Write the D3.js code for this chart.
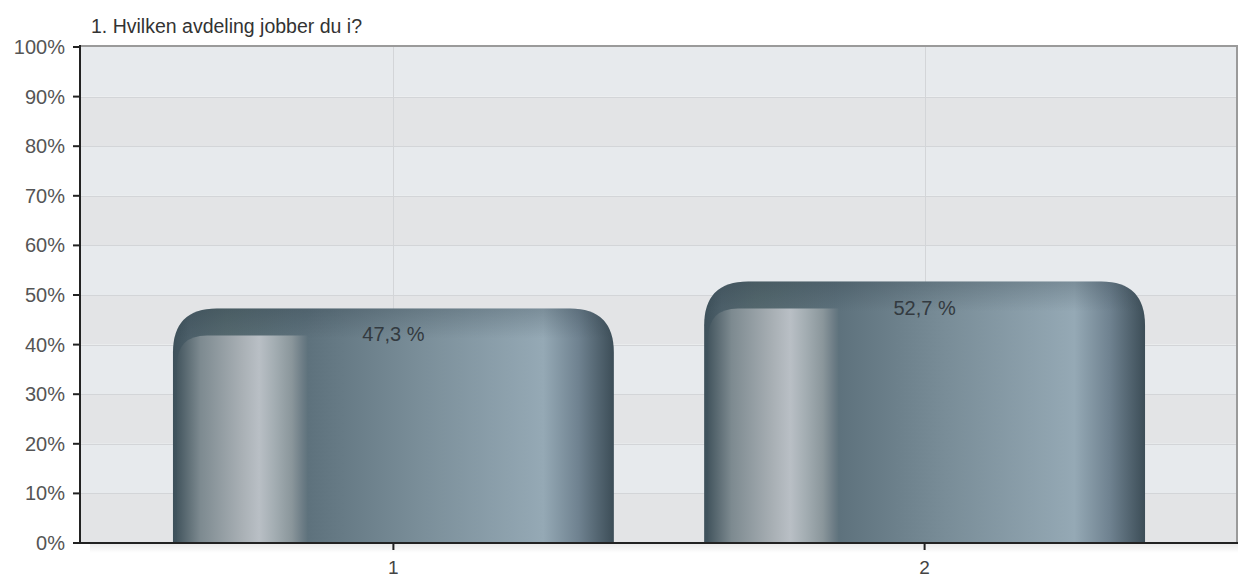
<!DOCTYPE html>
<html>
<head>
<meta charset="utf-8">
<script src="https://cdn.jsdelivr.net/npm/d3@7"></script>
<style>
  html, body { margin: 0; padding: 0; background: #ffffff; }
  svg { display: block; font-family: "Liberation Sans", Arial, Helvetica, sans-serif; }
</style>
</head>
<body>
<svg id="chart" width="1240" height="579"></svg>
<script>
// Survey question and answer shares
const title = "1. Hvilken avdeling jobber du i?";
const categories = ["1", "2"];
const values = [47.3, 52.7];
const valueLabels = ["47,3 %", "52,7 %"];
const yTicks = [0, 10, 20, 30, 40, 50, 60, 70, 80, 90, 100];
const yTickLabels = ["0%", "10%", "20%", "30%", "40%", "50%", "60%", "70%", "80%", "90%", "100%"];

const svg = d3.select("#chart");
const plot = { left: 80, right: 1238, top: 47, bottom: 543 };

const y = d3.scaleLinear().domain([0, 100]).range([plot.bottom, plot.top]);
const x = d3.scaleBand().domain(categories)
  .range([plot.left, plot.right])
  .paddingInner(0.17).paddingOuter(0.175);

const defs = svg.append("defs");

// Metallic horizontal gradient for the bar body
const body = defs.append("linearGradient").attr("id", "barBody")
  .attr("x1", 0).attr("x2", 1).attr("y1", 0).attr("y2", 0);
[[0, "#3d505a"], [0.04, "#4d606a"], [0.12, "#55696f"], [0.30, "#5d717c"],
 [0.55, "#798d98"], [0.84, "#95a9b5"], [0.92, "#6f8290"], [1, "#3c4d57"]]
  .forEach(([o, c]) => body.append("stop").attr("offset", o).attr("stop-color", c));

// Glossy highlight on the front left face
const hl = defs.append("linearGradient").attr("id", "barHighlight")
  .attr("x1", 0).attr("x2", 1).attr("y1", 0).attr("y2", 0);
[[0, "#44565f"], [0.18, "#7d8a90"], [0.5, "#a9b0b5"], [0.63, "#b9bfc5"],
 [0.75, "#a3adb2"], [0.88, "#8a969b"], [0.96, "#6d7d86"], [1, "#5f737d"]]
  .forEach(([o, c]) => hl.append("stop").attr("offset", o).attr("stop-color", c));

// Soft shadow under the x axis
const sh = defs.append("linearGradient").attr("id", "axisShadow")
  .attr("x1", 0).attr("x2", 0).attr("y1", 0).attr("y2", 1);
sh.append("stop").attr("offset", 0).attr("stop-color", "#000").attr("stop-opacity", 0.08);
sh.append("stop").attr("offset", 1).attr("stop-color", "#000").attr("stop-opacity", 0);

// Alternating background bands
const bands = d3.range(yTicks.length - 1).map(i => [yTicks[i], yTicks[i + 1]]);
svg.append("g").selectAll("rect").data(bands).join("rect")
  .attr("x", plot.left)
  .attr("width", plot.right - plot.left)
  .attr("y", d => y(d[1]))
  .attr("height", d => y(d[0]) - y(d[1]))
  .attr("fill", (d, i) => i % 2 === 0 ? "#e3e4e6" : "#e7eaed");

// Horizontal grid lines
svg.append("g").selectAll("line").data(yTicks.slice(1, -1)).join("line")
  .attr("x1", plot.left).attr("x2", plot.right)
  .attr("y1", d => Math.round(y(d)) + 0.5).attr("y2", d => Math.round(y(d)) + 0.5)
  .attr("stroke", "#d3d5d8").attr("stroke-width", 1);

// Vertical grid lines at category centres
svg.append("g").selectAll("line").data(categories).join("line")
  .attr("x1", d => Math.round(x(d) + x.bandwidth() / 2) + 0.5)
  .attr("x2", d => Math.round(x(d) + x.bandwidth() / 2) + 0.5)
  .attr("y1", plot.top).attr("y2", plot.bottom)
  .attr("stroke", "#d3d5d8").attr("stroke-width", 1);

// Plot frame (top and right)
svg.append("path")
  .attr("d", `M${plot.left},${plot.top - 1}H${plot.right - 1}V${plot.bottom}`)
  .attr("fill", "none").attr("stroke", "#9a9a9a").attr("stroke-width", 2);

// Bar outline with rounded top corners
function barPath(x0, x1, yTop, yBase, r) {
  const rr = Math.min(r, (x1 - x0) / 2, yBase - yTop);
  const p = d3.path();
  p.moveTo(x0, yBase);
  p.lineTo(x0, yTop + rr);
  p.quadraticCurveTo(x0, yTop, x0 + rr, yTop);
  p.lineTo(x1 - rr, yTop);
  p.quadraticCurveTo(x1, yTop, x1, yTop + rr);
  p.lineTo(x1, yBase);
  p.closePath();
  return p.toString();
}
function facePath(x0, x1, yTop, yBase, r) {
  const rr = Math.min(r, yBase - yTop);
  const p = d3.path();
  p.moveTo(x0, yBase);
  p.lineTo(x0, yTop + rr);
  p.quadraticCurveTo(x0, yTop, x0 + rr, yTop);
  p.lineTo(x1, yTop);
  p.lineTo(x1, yBase);
  p.closePath();
  return p.toString();
}

const data = categories.map((c, i) => ({ c, v: values[i], label: valueLabels[i], i }));

// Per-bar vertical shading near the top edge
data.forEach(d => {
  const yt = y(d.v);
  const g = defs.append("linearGradient").attr("id", "topShade" + d.i)
    .attr("gradientUnits", "userSpaceOnUse")
    .attr("x1", 0).attr("x2", 0).attr("y1", yt).attr("y2", yt + 30);
  g.append("stop").attr("offset", 0).attr("stop-color", "#1e2d37").attr("stop-opacity", 0.22);
  g.append("stop").attr("offset", 1).attr("stop-color", "#1e2d37").attr("stop-opacity", 0);
});

const barG = svg.append("g").selectAll("g").data(data).join("g");

barG.append("path")
  .attr("d", d => barPath(x(d.c), x(d.c) + x.bandwidth(), y(d.v), y(0), 44))
  .attr("fill", "url(#barBody)");

barG.append("path")
  .attr("d", d => barPath(x(d.c), x(d.c) + x.bandwidth(), y(d.v), y(0), 44))
  .attr("fill", d => `url(#topShade${d.i})`);

barG.append("path")
  .attr("d", d => facePath(x(d.c) + 4, x(d.c) + x.bandwidth() * 0.305, y(d.v) + 27, y(0), 30))
  .attr("fill", "url(#barHighlight)");

// Value labels
barG.append("text")
  .attr("x", d => x(d.c) + x.bandwidth() / 2)
  .attr("y", d => y(d.v) + 33)
  .attr("text-anchor", "middle")
  .attr("font-size", 20)
  .attr("fill", "#333a40")
  .text(d => d.label);

// Shadow beneath the x axis
svg.append("rect")
  .attr("x", plot.left + 10).attr("y", plot.bottom + 1)
  .attr("width", plot.right - plot.left - 10).attr("height", 9)
  .attr("fill", "url(#axisShadow)");

// Y axis
const yAxis = svg.append("g");
yAxis.append("line")
  .attr("x1", plot.left).attr("x2", plot.left)
  .attr("y1", plot.top - 2).attr("y2", plot.bottom + 1)
  .attr("stroke", "#222").attr("stroke-width", 2);
yAxis.selectAll("line.tick").data(yTicks).join("line").attr("class", "tick")
  .attr("x1", plot.left - 7).attr("x2", plot.left)
  .attr("y1", d => y(d)).attr("y2", d => y(d))
  .attr("stroke", "#222").attr("stroke-width", 2);
yAxis.selectAll("text").data(yTicks).join("text")
  .attr("x", plot.left - 15)
  .attr("y", d => y(d))
  .attr("dy", "0.35em")
  .attr("text-anchor", "end")
  .attr("font-size", 20)
  .attr("fill", "#555")
  .text((d, i) => yTickLabels[i]);

// X axis
const xAxis = svg.append("g");
xAxis.append("line")
  .attr("x1", plot.left - 7).attr("x2", plot.right)
  .attr("y1", plot.bottom).attr("y2", plot.bottom)
  .attr("stroke", "#222").attr("stroke-width", 2);
xAxis.selectAll("line.tick").data(categories).join("line").attr("class", "tick")
  .attr("x1", d => x(d) + x.bandwidth() / 2).attr("x2", d => x(d) + x.bandwidth() / 2)
  .attr("y1", plot.bottom).attr("y2", plot.bottom + 7)
  .attr("stroke", "#222").attr("stroke-width", 2);
xAxis.selectAll("text").data(categories).join("text")
  .attr("x", d => x(d) + x.bandwidth() / 2)
  .attr("y", plot.bottom + 31)
  .attr("text-anchor", "middle")
  .attr("font-size", 19)
  .attr("fill", "#444")
  .text(d => d);

// Title
svg.append("text")
  .attr("x", 91).attr("y", 33)
  .attr("font-size", 19.5)
  .attr("fill", "#333")
  .text(title);
</script>
</body>
</html>
